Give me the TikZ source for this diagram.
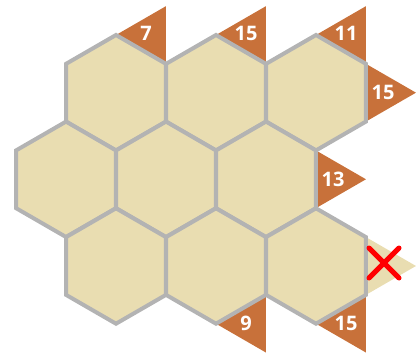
\documentclass[tikz,border=0pt]{standalone}
\usepackage{fontspec}
\setmainfont{Open Sans}
\usetikzlibrary{shapes.geometric,backgrounds}
\definecolor{hexbeige}{RGB}{233,221,177}
\definecolor{hexgray}{RGB}{179,179,179}
\definecolor{tagorange}{RGB}{200,113,58}
\definecolor{crossred}{RGB}{255,0,0}

\begin{document}
\begin{tikzpicture}[x=1pt,y=1pt,
    hexcell/.style={regular polygon,regular polygon sides=6,shape border rotate=30,
      minimum size=115.4pt,inner sep=0pt,outer sep=0pt,
      draw=hexgray,line width=4pt,fill=hexbeige},
    tagfill/.style={fill=tagorange},
    tagtext/.style={text=white,font=\fontsize{20}{24}\selectfont\bfseries,inner sep=0pt}]
  \useasboundingbox (0,0) rectangle (418,354);
  \foreach \n/\x/\y in {h11/116/261.3,h12/216/261.3,h13/316/261.3,
                        h21/66/174.7,h22/166/174.7,h23/266/174.7,
                        h31/116/88,h32/216/88,h33/316/88}
    \node[hexcell] (\n) at (\x,\y) {};
  \begin{scope}[on background layer]
    \foreach \n in {h11,h12,h13}
      \fill[tagfill] (\n.90) -- (\n.30) -- ++(0,57.7) -- cycle;
    \foreach \n in {h32,h33}
      \fill[tagfill] (\n.-90) -- (\n.-30) -- ++(0,-57.7) -- cycle;
    \foreach \n in {h13,h23}
      \fill[tagfill] (\n.30) -- (\n.-30) -- ++(50,28.87) -- cycle;
    \fill[hexbeige] (h33.30) -- (h33.-30) -- ++(50,28.87) -- cycle;
  \end{scope}
  \node[tagtext] (t7) at (146,321) {7};
  \node[tagtext] (t15a) at (246,321) {15};
  \node[tagtext] (t11) at (346,321) {11};
  \node[tagtext] (t15b) at (383,262) {15};
  \node[tagtext] (t13) at (333,175) {13};
  \node[tagtext] (t9) at (246,31) {9};
  \node[tagtext] (t15c) at (346,31) {15};
  \draw[crossred,line width=5pt,line cap=round]
    (369,76) -- (399,106) (369,106) -- (399,76);
\end{tikzpicture}
\end{document}
